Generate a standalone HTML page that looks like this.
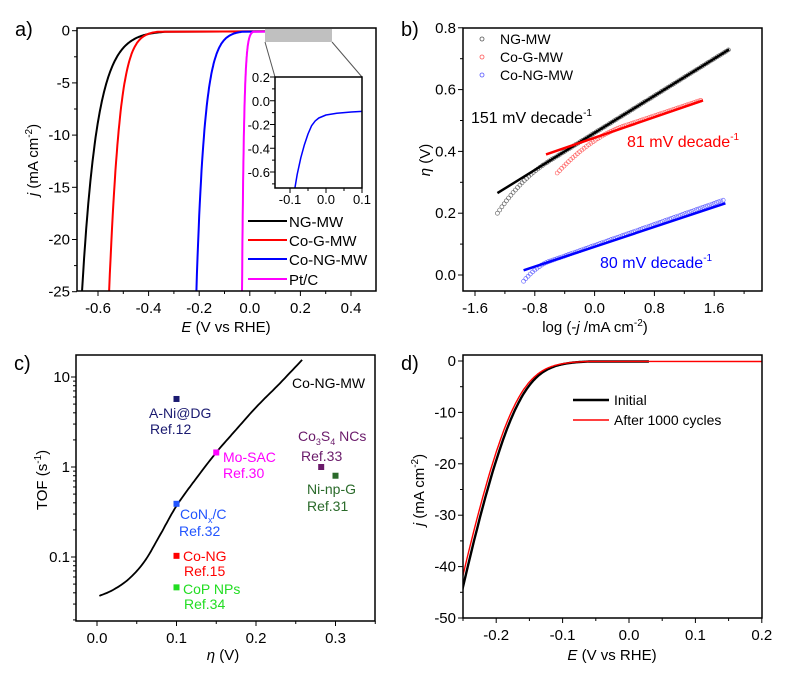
<!DOCTYPE html>
<html><head><meta charset="utf-8"><style>
body{margin:0;background:#fff;}
svg{display:block;font-family:"Liberation Sans",Arial,sans-serif;}
</style></head><body>
<svg id="s" width="790" height="677" viewBox="0 0 790 677" xmlns="http://www.w3.org/2000/svg"></svg>
<script>
const S=document.getElementById('s');let h='';
function T(x,y,t,o){o=o||{};h+=`<text x="${x}" y="${y}" font-size="${o.fs||15}" fill="${o.c||'#000'}" text-anchor="${o.a||'start'}" ${o.tr?`transform="${o.tr}"`:''} ${o.fst?'font-style="italic"':''}>${t}</text>`;}
function L(x1,y1,x2,y2,c,w){h+=`<line x1="${x1}" y1="${y1}" x2="${x2}" y2="${y2}" stroke="${c||'#000'}" stroke-width="${w||1}"/>`;}
function P(pts,c,w){h+=`<polyline fill="none" stroke="${c}" stroke-width="${w||2}" stroke-linejoin="round" points="${pts.map(p=>p[0].toFixed(1)+','+p[1].toFixed(1)).join(' ')}"/>`;}
function box(x1,y1,x2,y2){h+=`<rect x="${x1}" y="${y1}" width="${x2-x1}" height="${y2-y1}" fill="none" stroke="#000" stroke-width="1.5"/>`;}
function clip(id,x1,y1,x2,y2){h+=`<clipPath id="${id}"><rect x="${x1}" y="${y1}" width="${x2-x1}" height="${y2-y1}"/></clipPath>`;}
function xt(x,yb,maj){L(x,yb,x,yb+(maj?5:3));}
function yt(x,xl,maj){L(xl,x,xl-(maj?5:3),x);}
// ---------- panel a
{const X=E=>98+(E+0.6)*253,Y=j=>30.7-j*10.44;
clip('ca',77,28,376,291);
T(15,36,'a)',{fs:20});
for(let v=-0.6;v<=0.41;v+=0.1){const x=X(v);const maj=Math.abs(Math.round(v*10))%2==0;xt(x,291,maj);if(maj)T(x,313,v.toFixed(1).replace('-0.0','0.0'),{a:'middle'});}
for(let j=0;j>=-25;j-=2.5){const y=Y(j);const maj=j%5==0;yt(y,77,maj);if(maj)T(70,y+5,j,{a:'end'});}
T(226,332,'<tspan font-style="italic">E</tspan> (V vs RHE)',{a:'middle'});
T(38,160,'<tspan font-style="italic">j</tspan> (mA cm<tspan font-size="10" dy="-6">-2</tspan><tspan dy="6">)</tspan>',{a:'middle',tr:'rotate(-90 38 160)'});
h+='<g clip-path="url(#ca)">';
const curves=[['#000',-0.47,0.06,0,0.2],['#f00',-0.44,0.033,0.0004,0.22],['#00f',-0.105,0.033,0,0.29],['#f0f',-0.005,0.008,0,0.2]];
for(const[c,E0,b,R,end] of curves){const pts=[];for(let k=0;k<=80;k++){const i=25*Math.pow(0.004,k/80);pts.push([X(E0-b*Math.log(i)-R*i),Y(-i)]);}
pts.push([X(end),Y(-0.05)]);P(pts,c,2);}
h+='</g>';
h+=`<rect x="265" y="29" width="67" height="13" fill="#c0c0c0"/>`;
L(265,42,275,77,'#555',1);L(332,42,362,77,'#555',1);
const IX=E=>290+(E+0.1)*360,IY=j=>77+(0.2-j)*118.75;
clip('ci',275,77,362,188);
h+='<g clip-path="url(#ci)">';
const ip=[[-0.09,-0.8],[-0.08,-0.62],[-0.07,-0.48],[-0.06,-0.37],[-0.05,-0.28],[-0.04,-0.21],[-0.03,-0.17],[-0.02,-0.145],[0,-0.12],[0.03,-0.105],[0.07,-0.095],[0.1,-0.09]];
P(ip.map(p=>[IX(p[0]),IY(p[1])]),'#00f',1.5);h+='</g>';
box(275,77,362,188);
for(let v=-0.1;v<=0.11;v+=0.05){const x=IX(v);xt(x,188,Math.abs(Math.round(v*100))%10==0);}
[-0.1,0,0.1].forEach(v=>T(IX(v),204,v.toFixed(1),{a:'middle',fs:13}));
for(let j=0.2;j>=-0.7;j-=0.1){const y=IY(j);const maj=Math.abs(Math.round(j*10))%2==0;yt(y,275,maj);if(maj)T(270,y+5,j.toFixed(1).replace('-0.0','0.0'),{a:'end',fs:13});}
const lg=[['#000','NG-MW'],['#f00','Co-G-MW'],['#00f','Co-NG-MW'],['#f0f','Pt/C']];
lg.forEach((l,k)=>{const y=[221,240,259,279][k];L(248,y,287,y,l[0],2);T(289,y+6,l[1],{fs:15});});
box(77,28,376,291);}
// ---------- panel b
{const X=v=>475+(v+1.6)*74.75,Y=e=>275-e*309;
T(401,36,'b)',{fs:20});
for(let v=-1.6;v<=2.05;v+=0.4){const x=X(v);const maj=Math.abs(Math.round(v*10))%8==0;xt(x,291,maj);if(maj)T(x,313,v.toFixed(1).replace('-0.0','0.0'),{a:'middle'});}
for(let e=0;e<=0.81;e+=0.1){const y=Y(e);const maj=Math.round(e*10)%2==0;yt(y,463,maj);if(maj)T(456,y+5,e.toFixed(1),{a:'end'});}
T(595,332,'log (-<tspan font-style="italic">j</tspan> /mA cm<tspan font-size="10" dy="-6">-2</tspan><tspan dy="6">)</tspan>',{a:'middle'});
T(430,160,'<tspan font-style="italic">η</tspan> (V)',{a:'middle',tr:'rotate(-90 430 160)'});
function circ(pts,c){pts.forEach(p=>{h+=`<circle cx="${X(p[0]).toFixed(1)}" cy="${Y(p[1]).toFixed(1)}" r="2" fill="none" stroke="${c}" stroke-width="0.6"/>`;});}
let d=[];for(let v=-1.3;v<=1.8;v+=0.03){let e=0.265+(v+1.3)*0.15;if(v<-0.6)e-=0.065*Math.pow((-0.6-v)/0.7,2.2);d.push([v,e]);}circ(d,'#555');
d=[];for(let v=-0.5;v<=1.45;v+=0.03){let e=0.41+(v+0.5)*0.081;if(v<0.4)e-=0.08*Math.pow((0.4-v)/0.9,2);d.push([v,e]);}circ(d,'#f55');
d=[];for(let v=-0.95;v<=1.75;v+=0.03){let e=0.015+(v+0.95)*0.085;if(v<-0.6)e-=0.035*Math.pow((-0.6-v)/0.35,2);d.push([v,e]);}circ(d,'#55f');
L(X(-1.3),Y(0.265),X(1.8),Y(0.73),'#000',2.5);
L(X(-0.65),Y(0.39),X(1.45),Y(0.565),'#f00',2.5);
L(X(-0.95),Y(0.015),X(1.75),Y(0.232),'#00f',2.5);
[['#555','NG-MW'],['#f55','Co-G-MW'],['#55f','Co-NG-MW']].forEach((l,k)=>{const y=[39,57,75][k];h+=`<circle cx="482" cy="${y}" r="2" fill="none" stroke="${l[0]}" stroke-width="0.8"/>`;T(500,y+5,l[1],{fs:14});});
T(471,123,'151 mV decade<tspan font-size="10" dy="-7">-1</tspan>',{fs:16});
T(627,147,'81 mV decade<tspan font-size="10" dy="-7">-1</tspan>',{fs:16,c:'#f00'});
T(600,268,'80 mV decade<tspan font-size="10" dy="-7">-1</tspan>',{fs:16,c:'#00f'});
box(463,28,762,291);}
// ---------- panel c
{const X=v=>97+v*795,Y=t=>467-Math.log10(t)*90;
T(14,370,'c)',{fs:20});
for(let v=-0.05;v<=0.351;v+=0.05){const x=X(v);if(x<76||x>376)continue;const maj=Math.abs(Math.round(v*100))%10==0;xt(x,621,maj);if(maj)T(x,643,v.toFixed(1),{a:'middle'});}
for(let dec=-2;dec<=1;dec++)for(let m=1;m<10;m++){const t=m*Math.pow(10,dec);const y=Y(t);if(y<355||y>621)continue;yt(y,76,m==1);}
T(70,382,'10',{a:'end'});T(70,472,'1',{a:'end'});T(70,562,'0.1',{a:'end'});
T(223,660,'<tspan font-style="italic">η</tspan> (V)',{a:'middle'});
T(47,480,'TOF (s<tspan font-size="10" dy="-6">-1</tspan><tspan dy="6">)</tspan>',{a:'middle',tr:'rotate(-90 47 480)'});
const cp=[[0.003,0.037],[0.02,0.043],[0.04,0.057],[0.06,0.09],[0.08,0.18],[0.1,0.37],[0.125,0.75],[0.15,1.45],[0.175,2.6],[0.2,4.6],[0.23,8.5],[0.258,15.5]];
let pts=[];for(let i=0;i<cp.length-1;i++){const p0=cp[Math.max(0,i-1)],p1=cp[i],p2=cp[i+1],p3=cp[Math.min(cp.length-1,i+2)];for(let t=0;t<1;t+=0.1){const f=(a,b,c,d)=>0.5*((2*b)+(-a+c)*t+(2*a-5*b+4*c-d)*t*t+(-a+3*b-3*c+d)*t*t*t);pts.push([X(f(p0[0],p1[0],p2[0],p3[0])),Y(Math.pow(10,f(Math.log10(p0[1]),Math.log10(p1[1]),Math.log10(p2[1]),Math.log10(p3[1]))))]);}}
pts.push([X(0.258),Y(15.5)]);P(pts,'#000',1.8);
const mk=[[0.1,5.7,'#1a1a70'],[0.15,1.45,'#f0f'],[0.1,0.39,'#2255ff'],[0.1,0.103,'#f00'],[0.1,0.046,'#22dd22'],[0.282,1.0,'#6a1a6a'],[0.3,0.8,'#2a6a2a']];
mk.forEach(m=>{h+=`<rect x="${X(m[0])-3}" y="${Y(m[1])-3}" width="6" height="6" fill="${m[2]}"/>`;});
const fs=14;
T(292,388,'Co-NG-MW',{fs});
T(149,418,'A-Ni@DG',{fs,c:'#1a1a70'});T(150,434,'Ref.12',{fs,c:'#1a1a70'});
T(223,462,'Mo-SAC',{fs,c:'#f0f'});T(223,478,'Ref.30',{fs,c:'#f0f'});
T(180,519,'CoN<tspan font-size="9" dy="4">x</tspan><tspan dy="-4">/C</tspan>',{fs,c:'#2255ff'});T(179,536,'Ref.32',{fs,c:'#2255ff'});
T(183,561,'Co-NG',{fs,c:'#f00'});T(184,576,'Ref.15',{fs,c:'#f00'});
T(183,594,'CoP NPs',{fs,c:'#22dd22'});T(184,609,'Ref.34',{fs,c:'#22dd22'});
T(298,441,'Co<tspan font-size="9" dy="4">3</tspan><tspan dy="-4">S</tspan><tspan font-size="9" dy="4">4</tspan><tspan dy="-4"> NCs</tspan>',{fs,c:'#6a1a6a'});T(301,461,'Ref.33',{fs,c:'#6a1a6a'});
T(307,494,'Ni-np-G',{fs,c:'#2a6a2a'});T(307,511,'Ref.31',{fs,c:'#2a6a2a'});
box(76,355,375,621);}
// ---------- panel d
{const X=E=>463+(E+0.25)*664,Y=j=>361-j*5.14;
T(401,370,'d)',{fs:20});
for(let v=-0.25;v<=0.201;v+=0.05){const x=X(v);const maj=Math.abs(Math.round(v*100))%10==0;xt(x,618,maj);if(maj)T(x,640,v.toFixed(1).replace('-0.0','0.0'),{a:'middle'});}
for(let j=0;j>=-50;j-=5){const y=Y(j);const maj=j%10==0;yt(y,463,maj);if(maj)T(456,y+5,j,{a:'end'});}
T(612,660,'<tspan font-style="italic">E</tspan> (V vs RHE)',{a:'middle'});
T(424,490,'<tspan font-style="italic">j</tspan> (mA cm<tspan font-size="10" dy="-6">-2</tspan><tspan dy="6">)</tspan>',{a:'middle',tr:'rotate(-90 424 490)'});
clip('cd',463,355,762,618);h+='<g clip-path="url(#cd)">';
function cv(sh,imax,end,c,w){const p=[];for(let k=0;k<=90;k++){const i=imax*Math.pow(0.002,k/90);p.push([X(-0.111-0.022*Math.log(i)-0.0013*(i-1)+sh),Y(-i)]);}p.push([X(end),Y(-0.1)]);P(p,c,w);}
cv(0,46,0.03,'#000',2.4);cv(-0.004,43,0.2,'#f00',1.4);
h+='</g>';
L(573,400,609,400,'#000',2.5);T(614,405,'Initial',{fs:14});
L(573,420,609,420,'#f00',1.4);T(614,425,'After 1000 cycles',{fs:14});
box(463,355,762,618);}
S.innerHTML=h;
</script>
</body></html>
